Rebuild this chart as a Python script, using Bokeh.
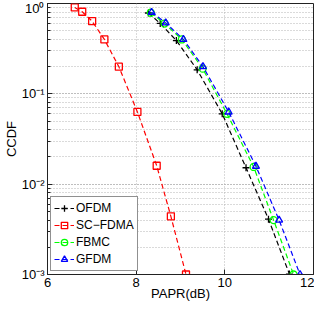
from bokeh.plotting import figure
from bokeh.models import FixedTicker, CustomJSTickFormatter, Legend, LogTicker
from bokeh.embed import file_html
from bokeh.resources import INLINE

# ---- data ----
ofdm_x = [8.276, 8.543, 8.907, 9.376, 9.941, 10.478, 10.985, 11.457]
ofdm_y = [0.785, 0.602, 0.389, 0.1846, 0.0601, 0.0152, 0.0041, 0.00101]

scfdma_x = [6.615, 6.783, 7.007, 7.283, 7.609, 8.028, 8.463, 8.783, 9.124]
scfdma_y = [0.905, 0.81, 0.637, 0.40, 0.20, 0.063, 0.016, 0.0044, 0.001]

fbmc_x = [8.33, 8.64, 9.03, 9.50, 10.05, 10.65, 11.10, 11.55]
fbmc_y = [0.79, 0.60, 0.40, 0.19, 0.060, 0.0155, 0.004, 0.001]

gfdm_x = [8.348, 8.667, 9.065, 9.507, 10.087, 10.702, 11.224, 11.696]
gfdm_y = [0.80, 0.61, 0.40, 0.20, 0.063, 0.0158, 0.004, 0.001]

x_ticks = [6, 8, 10, 12]

FONT = "Liberation Sans"

p = figure(x_range=(6, 12), y_range=(1e-3, 1), y_axis_type="log",
           width=314, height=303,
           output_backend="svg", toolbar_location=None,
           min_border_left=0, min_border_right=1, min_border_top=3, min_border_bottom=0,
           background_fill_color="white", border_fill_color="white")

p.outline_line_color = "#222222"
p.outline_line_width = 1

# axes
p.xaxis.ticker = FixedTicker(ticks=x_ticks)
p.yaxis.ticker = LogTicker(num_minor_ticks=10)
sup_js = """
const e = Math.round(Math.log10(tick));
const m = {'-':'\u207b','0':'\u2070','1':'\u00b9','2':'\u00b2','3':'\u00b3','4':'\u2074','5':'\u2075','6':'\u2076','7':'\u2077','8':'\u2078','9':'\u2079'};
return '10' + String(e).split('').map(c => m[c]).join('');
"""
p.yaxis.formatter = CustomJSTickFormatter(code=sup_js)

for ax in [p.xaxis[0], p.yaxis[0]]:
    ax.axis_line_color = "#222222"
    ax.major_tick_in = 5
    ax.major_tick_out = 0
    ax.minor_tick_in = 3
    ax.minor_tick_out = 0
    ax.major_tick_line_color = "#222222"
    ax.minor_tick_line_color = "#222222"
    ax.major_label_text_font = FONT
    ax.major_label_text_font_size = "13px"
    ax.major_label_text_color = "black"
    ax.axis_label_text_font = FONT
    ax.axis_label_text_font_size = "13px"
    ax.axis_label_text_font_style = "normal"
    ax.axis_label_text_color = "black"

p.xaxis.minor_tick_line_color = None
p.xaxis.axis_label = "PAPR(dB)"
p.yaxis.axis_label = "CCDF"
p.xaxis.major_label_standoff = 3
p.xaxis.axis_label_standoff = -4
p.yaxis.major_label_standoff = 3
p.yaxis.axis_label_standoff = 0

# grids
p.xgrid.ticker = FixedTicker(ticks=x_ticks)
p.xgrid.grid_line_color = "#b4b4b4"
p.xgrid.grid_line_dash = "1 2"
p.ygrid.grid_line_color = "#b4b4b4"
p.ygrid.grid_line_dash = "1 2"
p.ygrid.minor_grid_line_color = "#b4b4b4"
p.ygrid.minor_grid_line_dash = "1 2"

DASH = "5 3"
LW = 1.2
MS = 7

series = [
    ("OFDM", ofdm_x, ofdm_y, "black", "cross"),
    ("SC\u2212FDMA", scfdma_x, scfdma_y, "red", "square"),
    ("FBMC", fbmc_x, fbmc_y, "#00ff00", "circle"),
    ("GFDM", gfdm_x, gfdm_y, "blue", "triangle"),
]
items = []
for name, xs, ys, col, mk in series:
    l = p.line(xs, ys, line_color=col, line_dash=DASH, line_width=LW)
    s = p.scatter(xs, ys, marker=mk, size=MS, line_color=col, fill_color=None, line_width=1.3)
    items.append((name, [l, s]))

legend = Legend(items=items, location="bottom_left")
legend.label_text_font = FONT
legend.label_text_font_size = "12px"
legend.label_text_color = "black"
legend.glyph_width = 20
legend.glyph_height = 16
legend.label_height = 16
legend.spacing = 1
legend.padding = 3
legend.margin = 3
legend.border_line_color = "#222222"
legend.border_line_width = 1
legend.background_fill_color = "white"
legend.background_fill_alpha = 1
legend.label_standoff = 2
p.add_layout(legend)

open("out.html", "w").write(file_html(p, INLINE))
